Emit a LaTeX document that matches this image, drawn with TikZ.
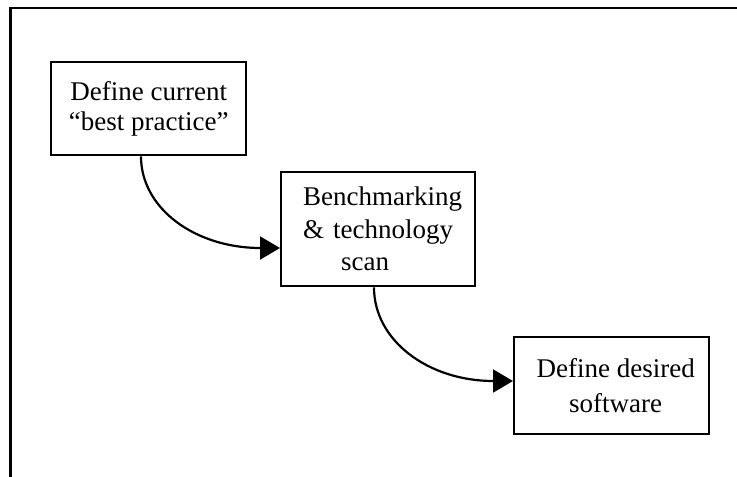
\documentclass[tikz,border=0pt]{standalone}
\usepackage{fontspec}
\setmainfont{Liberation Serif}
\usetikzlibrary{arrows.meta,calc}
\begin{document}
\begin{tikzpicture}[x=1pt,y=-1pt,
  stepbox/.style={draw,line width=2.4pt,inner sep=0pt,anchor=north west},
  flow/.style={line width=2.2pt,-{Triangle[length=20pt,width=23pt]}}]
\useasboundingbox (0,0) rectangle (737,477);
% outer frame (top and left edges only)
\draw[line width=2.6pt] (10.5,477) -- (10.5,8) -- (737,8);

% process steps
\node[stepbox,minimum width=195pt,minimum height=93pt,align=center,
      font=\fontsize{27}{30}\selectfont] (b1) at (50,61)
  {Define current\\``best practice''};
\node[stepbox,minimum width=194pt,minimum height=114pt,text width=150pt,align=left,
      font=\fontsize{27}{32.5}\selectfont] (b2) at (280,171)
  {Benchmarking\\\& technology\\\hspace*{38pt}scan};
\node[stepbox,minimum width=195pt,minimum height=97pt,align=center,
      font=\fontsize{27}{35}\selectfont] (b3) at (513,336)
  {\hspace*{8pt}Define desired\\\hspace*{8pt}software};

% connectors
\coordinate (s1) at ($(b1.south west)+(91,0)$);
\coordinate (e1) at ($(b2.north west)+(0,77)$);
\coordinate (s2) at ($(b2.south west)+(94,0)$);
\coordinate (e2) at ($(b3.north west)+(0,45)$);
\draw[flow] (s1) .. controls +(0,52) and +(-85,0) .. (e1);
\draw[flow] (s2) .. controls +(0,53) and +(-85,0) .. (e2);
\end{tikzpicture}
\end{document}
